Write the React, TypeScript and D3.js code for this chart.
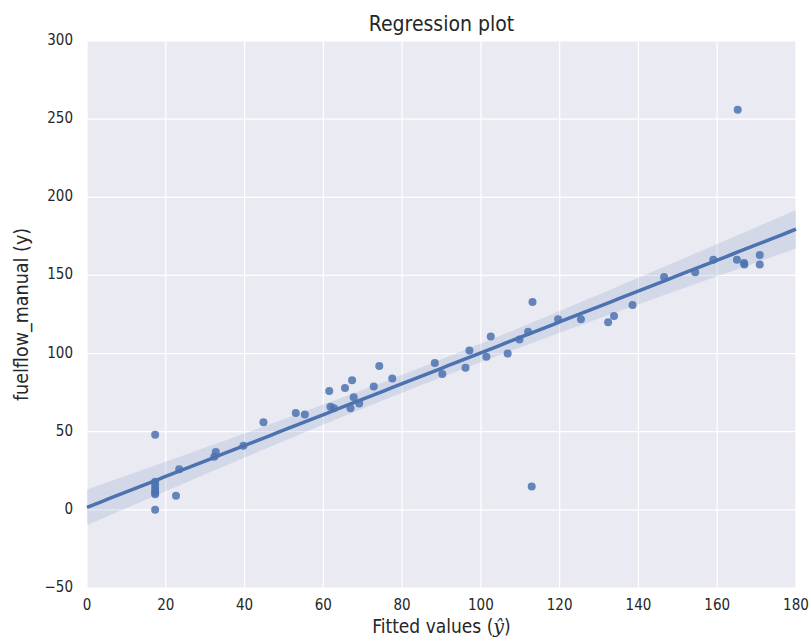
import React, { useEffect, useRef } from 'react';
import * as d3 from 'd3';

// fitted values (x) and observed fuelflow_manual (y)
const fitted = [
  17.3, 17.3, 17.3, 17.3, 17.3, 17.3, 17.3, 17.3, 22.6, 23.4,
  32.3, 32.7, 39.7, 44.8, 53.0, 55.3, 61.5, 61.8, 62.7, 65.5,
  66.9, 67.3, 67.7, 69.1, 72.8, 74.2, 77.5, 88.3, 90.2, 96.1,
  97.1, 101.4, 102.5, 106.8, 109.8, 112.0, 112.9, 113.1, 119.6, 125.4,
  132.3, 133.8, 138.5, 146.5, 154.4, 159.0, 165.0, 165.2, 166.8, 166.9,
  170.8, 170.8
];
const observed = [
  48, 18, 16, 14, 12, 11, 10, 0, 9, 26,
  34, 37, 41, 56, 62, 61, 76, 66, 65, 78,
  65, 83, 72, 68, 79, 92, 84, 94, 87, 91,
  102, 98, 111, 100, 109, 114, 15, 133, 122, 122,
  120, 124, 131, 149, 152, 160, 160, 256, 158, 157,
  163, 157
];
const xTicks = [0, 20, 40, 60, 80, 100, 120, 140, 160, 180];
const yTicks = [-50, 0, 50, 100, 150, 200, 250, 300];

function App() {
  const svgRef = useRef<SVGSVGElement>(null);

  useEffect(() => {
    if (!svgRef.current) return;
    const width = 811;
    const height = 642;
    const margin = { top: 41, right: 15, bottom: 54, left: 87 };
    const color = '#4C72B0';

    const svg = d3.select(svgRef.current);
    svg.selectAll('*').remove();

    const x = d3.scaleLinear().domain([0, 180]).range([margin.left, width - margin.right]);
    const y = d3.scaleLinear().domain([-50, 300]).range([height - margin.bottom, margin.top]);

    svg.append('rect')
      .attr('x', margin.left)
      .attr('y', margin.top)
      .attr('width', x(180) - x(0))
      .attr('height', y(-50) - y(300))
      .attr('fill', '#EAEAF2');

    const grid = svg.append('g').attr('stroke', 'white').attr('stroke-width', 1.2);
    xTicks.forEach(t => {
      grid.append('line').attr('x1', x(t)).attr('x2', x(t)).attr('y1', y(-50)).attr('y2', y(300));
    });
    yTicks.forEach(t => {
      grid.append('line').attr('x1', x(0)).attr('x2', x(180)).attr('y1', y(t)).attr('y2', y(t));
    });

    // simple OLS fit + 95% band
    const n = fitted.length;
    const mx = d3.mean(fitted)!;
    const my = d3.mean(observed)!;
    const sxx = d3.sum(fitted, v => (v - mx) ** 2);
    const sxy = d3.sum(fitted.map((v, i) => (v - mx) * (observed[i] - my)));
    const slope = sxy / sxx;
    const icpt = my - slope * mx;
    const resid = fitted.map((v, i) => observed[i] - (icpt + slope * v));
    const s = Math.sqrt(d3.sum(resid, r => r * r) / (n - 2));
    const grid100 = d3.range(0, 180.01, 1.8);
    const band = grid100.map(v => {
      const se = s * Math.sqrt(1 / n + (v - mx) ** 2 / sxx) * 1.96;
      const f = icpt + slope * v;
      return { v, lo: f - se, hi: f + se, f };
    });

    svg.append('path')
      .datum(band)
      .attr('d', d3.area<any>().x(d => x(d.v)).y0(d => y(d.lo)).y1(d => y(d.hi)))
      .attr('fill', color)
      .attr('fill-opacity', 0.15);

    svg.append('g')
      .selectAll('circle')
      .data(fitted)
      .join('circle')
      .attr('cx', d => x(d))
      .attr('cy', (d, i) => y(observed[i]))
      .attr('r', 4)
      .attr('fill', color)
      .attr('fill-opacity', 0.85);

    svg.append('path')
      .datum(band)
      .attr('d', d3.line<any>().x(d => x(d.v)).y(d => y(d.f)))
      .attr('fill', 'none')
      .attr('stroke', color)
      .attr('stroke-width', 3.5);

    const font = '"DejaVu Sans Condensed", "DejaVu Sans", sans-serif';
    svg.append('g')
      .selectAll('text')
      .data(xTicks)
      .join('text')
      .attr('x', d => x(d))
      .attr('y', y(-50) + 22)
      .attr('text-anchor', 'middle')
      .attr('font-family', font)
      .attr('font-size', 15)
      .attr('fill', '#262626')
      .text(d => d);

    svg.append('g')
      .selectAll('text')
      .data(yTicks)
      .join('text')
      .attr('x', x(0) - 14)
      .attr('y', d => y(d) + 4)
      .attr('text-anchor', 'end')
      .attr('font-family', font)
      .attr('font-size', 15)
      .attr('fill', '#262626')
      .text(d => d < 0 ? `\u2212${-d}` : d);

    svg.append('text')
      .attr('x', (x(0) + x(180)) / 2)
      .attr('y', 31)
      .attr('text-anchor', 'middle')
      .attr('font-family', font)
      .attr('font-size', 21)
      .attr('fill', '#262626')
      .text('Regression plot');

    const xl = svg.append('text')
      .attr('x', (x(0) + x(180)) / 2)
      .attr('y', 633)
      .attr('text-anchor', 'middle')
      .attr('font-family', font)
      .attr('font-size', 19)
      .attr('fill', '#262626');
    xl.append('tspan').text('Fitted values (');
    xl.append('tspan').attr('font-style', 'italic').attr('font-family', '"DejaVu Serif", serif').text('\u0177');
    xl.append('tspan').text(')');

    svg.append('text')
      .attr('transform', `translate(28,${(y(-50) + y(300)) / 2}) rotate(-90)`)
      .attr('text-anchor', 'middle')
      .attr('font-family', font)
      .attr('font-size', 19.5)
      .attr('fill', '#262626')
      .text('fuelflow_manual (y)');
  }, []);

  return (
    <svg ref={svgRef} width={811} height={642}
      style={{ position: 'absolute', left: 0, top: 0, background: 'white' }} />
  );
}

export default App;
